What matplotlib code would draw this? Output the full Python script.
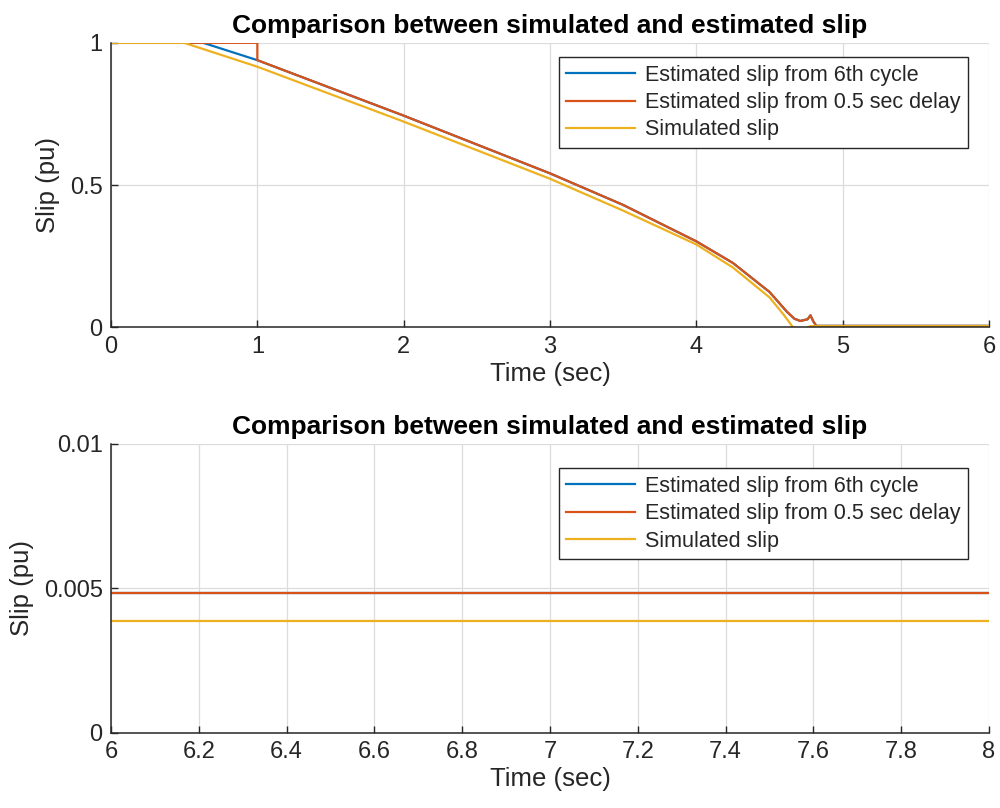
import matplotlib
matplotlib.use("Agg")
from matplotlib import pyplot as plt

# full run, 0-6 s
t_sim = [0, 0.5, 1, 2, 3, 3.5, 4, 4.25, 4.5, 4.6, 4.66, 4.7, 4.75, 4.78, 6]
sim_slip = [1, 1, 0.916, 0.723, 0.522, 0.41, 0.291, 0.21, 0.105, 0.042, 0.0, -0.004, -0.002, 0.0039, 0.0039]

t_est = [1, 2, 3, 3.5, 4, 4.25, 4.5, 4.62, 4.67, 4.71, 4.76, 4.78, 4.8, 4.82, 6]
est_slip = [0.939, 0.744, 0.541, 0.43, 0.302, 0.226, 0.124, 0.054, 0.03, 0.022, 0.028, 0.042, 0.02, 0.0048, 0.0048]

# 6th cycle estimate starts leaving 1 at ~0.63 s, delay estimate jumps at 1 s
t_cycle = [0, 0.63] + t_est
cycle_slip = [1, 1] + est_slip
t_delay = [0, 1] + t_est
delay_slip = [1, 1] + est_slip

# zoomed run, 6-8 s
t_zoom = [6, 8]
cycle_zoom = [0.00484, 0.00484]
delay_zoom = [0.00484, 0.00484]
sim_zoom = [0.00385, 0.00385]

c_blue = "#0072BD"
c_red = "#D95319"
c_yel = "#EDB120"
ink = "#262626"
names = ["Estimated slip from 6th cycle", "Estimated slip from 0.5 sec delay", "Simulated slip"]

plt.rcParams["font.family"] = ["Liberation Sans", "DejaVu Sans"]

fig = plt.figure(figsize=(10, 8.08), dpi=100)
ax1 = fig.add_axes([0.111, 0.595, 0.878, 0.352])
ax2 = fig.add_axes([0.111, 0.093, 0.878, 0.358])


def style(ax):
    for s in ["top", "right"]:
        ax.spines[s].set_visible(False)
    for s in ["left", "bottom"]:
        ax.spines[s].set_color(ink)
        ax.spines[s].set_linewidth(1.1)
    ax.grid(True, color="#dcdcdc", linewidth=0.9)
    ax.set_axisbelow(True)
    ax.tick_params(direction="in", length=5, width=1, colors=ink, labelsize=17, pad=6)
    ax.set_xlabel("Time (sec)", fontsize=18.5, color=ink, labelpad=3)
    ax.set_ylabel("Slip (pu)", fontsize=18.5, color=ink, labelpad=7)
    ax.set_title("Comparison between simulated and estimated slip", fontsize=19,
                 fontweight="bold", color="black", pad=7)


ax1.plot(t_cycle, cycle_slip, color=c_blue, lw=1.6, label=names[0])
ax1.plot(t_delay, delay_slip, color=c_red, lw=1.6, label=names[1])
ax1.plot(t_sim, sim_slip, color=c_yel, lw=1.6, label=names[2])
ax1.set_xlim(0, 6)
ax1.set_ylim(0, 1)
ax1.set_xticks(range(0, 7))
ax1.set_yticks([0, 0.5, 1])
ax1.set_yticklabels(["0", "0.5", "1"])
style(ax1)

ax2.plot(t_zoom, cycle_zoom, color=c_blue, lw=1.6, label=names[0])
ax2.plot(t_zoom, delay_zoom, color=c_red, lw=1.6, label=names[1])
ax2.plot(t_zoom, sim_zoom, color=c_yel, lw=1.6, label=names[2])
ax2.set_xlim(6, 8)
ax2.set_ylim(0, 0.01)
xt = [6 + 0.2 * i for i in range(11)]
ax2.set_xticks(xt)
ax2.set_xticklabels(["6", "6.2", "6.4", "6.6", "6.8", "7", "7.2", "7.4", "7.6", "7.8", "8"])
ax2.set_yticks([0, 0.005, 0.01])
ax2.set_yticklabels(["0", "0.005", "0.01"])
style(ax2)

for ax, top in [(ax1, 0.95), (ax2, 0.915)]:
    leg = ax.legend(loc="upper right", bbox_to_anchor=(0.976, top), fontsize=15.5,
                    fancybox=False, framealpha=1, edgecolor=ink, handlelength=3.2,
                    handletextpad=0.45, labelspacing=0.3, borderpad=0.35, borderaxespad=0)
    leg.get_frame().set_linewidth(1.0)
    for txt in leg.get_texts():
        txt.set_color(ink)

fig.savefig("out.png", dpi=100)
